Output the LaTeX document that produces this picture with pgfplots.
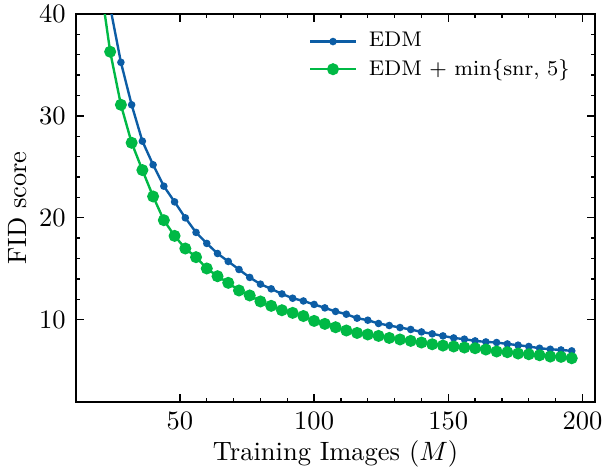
\documentclass[border=0pt]{standalone}
\usepackage{pgfplots}
\pgfplotsset{compat=1.18}
\definecolor{sciblue}{HTML}{0C5DA5}
\definecolor{scigreen}{HTML}{00B945}
\begin{document}
\begin{tikzpicture}
\begin{axis}[
  scale only axis,
  width=196pt, height=146.4pt,
  xmin=11.2, xmax=204.8,
  ymin=1.9, ymax=40,
  xtick={50,100,150,200},
  ytick={10,20,30,40},
  minor x tick num=4,
  minor y tick num=4,
  tick align=inside,
  tick pos=both,
  major tick length=3pt,
  minor tick length=1.6pt,
  axis line style={line width=0.7pt},
  every tick/.style={black, line width=0.5pt},
  xticklabel style={inner sep=1pt, yshift=-2.8pt},
  yticklabel style={inner sep=1pt, xshift=-2.6pt},
  xlabel={Training Images ($M$)},
  ylabel={FID score},
  xlabel style={inner sep=1pt, yshift=-2pt},
  ylabel style={yshift=0pt},
  legend style={draw=none, fill=none, at={(0.99,0.985)}, anchor=north east,
    row sep=-1.8pt, font=\fontsize{8}{10}\selectfont,
    nodes={inner xsep=4.5pt, inner ysep=2.5pt}},
  legend cell align=left,
  clip=true,
]
\addplot[sciblue, line width=0.9pt, mark=*, mark size=0.95pt] coordinates {
(20,50.0)(24,40.7)(28,35.26)(32,31.09)(36,27.52)(40,25.20)(44,23.10)(48,21.56)
(52,19.99)(56,18.56)(60,17.48)(64,16.49)(68,15.71)(72,14.92)(76,14.14)(80,13.48)
(84,13.02)(88,12.52)(92,12.10)(96,11.83)(100,11.49)(104,11.15)(108,10.80)(112,10.53)
(116,10.14)(120,9.94)(124,9.62)(128,9.42)(132,9.22)(136,9.03)(140,8.79)(144,8.60)
(148,8.40)(152,8.20)(156,8.08)(160,7.91)(164,7.81)(168,7.75)(172,7.61)(176,7.49)
(180,7.36)(184,7.19)(188,7.09)(192,7.02)(196,6.93)
};
\addlegendentry{EDM}
\addplot[scigreen, line width=0.9pt, mark=*, mark size=1.8pt] coordinates {
(20,43.7)(24,36.30)(28,31.09)(32,27.36)(36,24.68)(40,22.09)(44,19.76)(48,18.22)
(52,16.98)(56,16.13)(60,15.02)(64,14.26)(68,13.61)(72,12.86)(76,12.37)(80,11.78)
(84,11.35)(88,10.92)(92,10.66)(96,10.35)(100,9.87)(104,9.58)(108,9.25)(112,8.93)
(116,8.69)(120,8.54)(124,8.40)(128,8.20)(132,8.05)(136,7.91)(140,7.75)(144,7.58)
(148,7.45)(152,7.36)(156,7.26)(160,7.19)(164,7.06)(168,6.87)(172,6.80)(176,6.67)
(180,6.60)(184,6.50)(188,6.37)(192,6.34)(196,6.21)
};
\addlegendentry{EDM $+$ $\min\{\mathrm{snr},\, 5\}$}
\end{axis}
\path ([yshift=5.3pt]current axis.north);
\end{tikzpicture}
\end{document}
